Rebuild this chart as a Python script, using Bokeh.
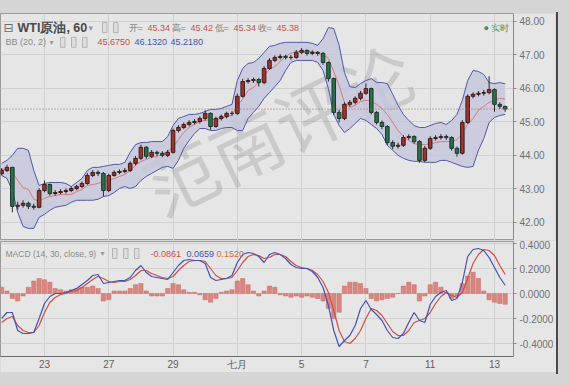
from bokeh.plotting import figure
from bokeh.models import Range1d, FixedTicker, PrintfTickFormatter, Grid, Label, Span, Div
from bokeh.layouts import column, row
from bokeh.embed import file_html
from bokeh.resources import INLINE
from bokeh.core.properties import value

# ---------------- data (4-hour bars) ----------------
day_tick_bars = [8, 20, 32, 44, 56, 68, 80, 92]
day_labels = ["23", "27", "29", "七月", "5", "7", "11", "13"]
price_ticks = [42, 43, 44, 45, 46, 47, 48]
macd_ticks = [-0.4, -0.2, 0.0, 0.2, 0.4]

opens = [43.45, 43.55, 43.64, 42.48, 42.51, 42.57, 42.48, 42.45, 42.95, 43.13,
         42.86, 42.89, 42.92, 42.95, 43.01, 43.07, 43.16, 43.40, 43.49, 43.46,
         42.95, 43.40, 43.49, 43.52, 43.55, 43.76, 43.91, 44.24, 43.97, 44.09,
         44.06, 44.00, 44.09, 44.74, 44.83, 44.92, 44.98, 45.01, 45.10, 45.25,
         44.86, 45.10, 45.16, 45.25, 45.25, 45.76, 46.20, 46.23, 46.26, 46.17,
         46.59, 46.83, 46.92, 46.95, 46.92, 46.92, 47.07, 47.13, 47.04, 47.07,
         47.04, 46.77, 46.29, 45.28, 45.10, 45.52, 45.58, 45.70, 45.85, 45.99,
         45.28, 44.98, 44.86, 44.38, 44.27, 44.30, 44.53, 44.56, 44.41, 43.85,
         44.21, 44.50, 44.53, 44.56, 44.53, 44.21, 44.06, 44.98, 45.76, 45.82,
         45.85, 45.87, 45.96, 45.52, 45.46]
closes = [43.55, 43.64, 42.48, 42.51, 42.57, 42.48, 42.45, 42.95, 43.13, 42.86,
          42.89, 42.92, 42.95, 43.01, 43.07, 43.16, 43.40, 43.49, 43.46, 42.95,
          43.40, 43.49, 43.52, 43.55, 43.76, 43.91, 44.24, 43.97, 44.09, 44.06,
          44.00, 44.09, 44.74, 44.83, 44.92, 44.98, 45.01, 45.10, 45.25, 44.86,
          45.10, 45.16, 45.25, 45.25, 45.76, 46.20, 46.23, 46.26, 46.17, 46.59,
          46.83, 46.92, 46.95, 46.92, 46.92, 47.07, 47.13, 47.04, 47.07, 47.04,
          46.77, 46.29, 45.28, 45.10, 45.52, 45.58, 45.70, 45.85, 45.99, 45.28,
          44.98, 44.86, 44.38, 44.27, 44.30, 44.53, 44.56, 44.41, 43.85, 44.21,
          44.50, 44.53, 44.56, 44.53, 44.21, 44.06, 44.98, 45.76, 45.82, 45.85,
          45.87, 45.96, 45.52, 45.46, 45.38]
highs = [43.62, 43.72, 43.66, 42.62, 42.66, 42.62, 42.56, 43.02, 43.25, 43.16,
         42.96, 42.99, 43.01, 43.07, 43.12, 43.22, 43.47, 43.56, 43.55, 43.50,
         43.45, 43.55, 43.58, 43.62, 43.82, 43.98, 44.32, 44.28, 44.16, 44.14,
         44.12, 44.16, 44.80, 44.90, 44.98, 45.05, 45.08, 45.16, 45.34, 45.28,
         45.15, 45.22, 45.30, 45.32, 45.84, 46.28, 46.30, 46.32, 46.30, 46.66,
         46.90, 46.98, 47.02, 47.00, 46.99, 47.14, 47.20, 47.16, 47.13, 47.11,
         47.08, 46.80, 46.32, 45.36, 45.58, 45.65, 45.76, 45.92, 46.14, 46.02,
         45.32, 45.04, 44.90, 44.45, 44.38, 44.60, 44.63, 44.60, 44.45, 44.28,
         44.57, 44.60, 44.63, 44.62, 44.57, 44.26, 45.05, 45.82, 45.88, 45.92,
         45.95, 46.36, 46.00, 45.58, 45.48]
lows = [43.40, 43.50, 42.30, 42.38, 42.44, 42.40, 42.38, 42.42, 42.90, 42.80,
        42.80, 42.84, 42.86, 42.90, 42.96, 43.02, 43.12, 43.35, 43.38, 42.78,
        42.90, 43.36, 43.44, 43.46, 43.50, 43.70, 43.86, 43.90, 43.92, 43.98,
        43.94, 43.95, 44.05, 44.68, 44.78, 44.86, 44.92, 44.95, 45.04, 44.76,
        44.82, 45.04, 45.10, 45.18, 45.20, 45.72, 46.14, 46.16, 46.05, 46.12,
        46.55, 46.78, 46.86, 46.86, 46.85, 46.88, 47.02, 46.98, 46.99, 46.97,
        46.70, 46.20, 45.20, 44.98, 45.05, 45.45, 45.52, 45.64, 45.80, 45.22,
        44.92, 44.78, 44.30, 44.18, 44.20, 44.25, 44.46, 44.35, 43.78, 43.80,
        44.16, 44.44, 44.47, 44.46, 44.14, 43.96, 44.02, 44.94, 45.70, 45.76,
        45.78, 45.82, 45.30, 45.38, 45.30]

bb_upper = [43.76, 43.85, 44.00, 44.21, 44.21, 44.15, 43.55, 43.10, 43.16, 43.19,
            43.19, 43.19, 43.16, 43.07, 43.19, 43.31, 43.55, 43.64, 43.64, 43.67,
            43.70, 43.73, 43.73, 43.79, 44.09, 44.32, 44.38, 44.38, 44.41, 44.41,
            44.41, 44.56, 44.89, 45.10, 45.16, 45.22, 45.22, 45.25, 45.31, 45.37,
            45.37, 45.40, 45.46, 45.52, 46.23, 46.59, 46.74, 46.77, 46.89, 47.07,
            47.25, 47.28, 47.34, 47.37, 47.37, 47.37, 47.37, 47.37, 47.34, 47.28,
            47.48, 47.81, 47.78, 47.28, 46.47, 46.05, 46.02, 46.14, 46.23, 46.29,
            46.17, 46.17, 46.14, 45.82, 45.49, 45.22, 45.04, 44.89, 44.83, 44.83,
            44.89, 44.95, 44.98, 44.92, 45.04, 45.22, 45.64, 46.23, 46.53, 46.50,
            46.41, 46.17, 46.14, 46.17, 46.132]
bb_lower = [43.40, 43.31, 42.95, 42.30, 41.88, 41.82, 41.82, 42.15, 42.24, 42.36,
            42.45, 42.48, 42.51, 42.60, 42.66, 42.66, 42.66, 42.66, 42.69, 42.77,
            42.80, 42.89, 43.01, 43.07, 43.01, 43.07, 43.25, 43.37, 43.46, 43.55,
            43.64, 43.67, 43.61, 43.85, 44.21, 44.44, 44.65, 44.80, 44.80, 44.74,
            44.74, 44.80, 44.83, 44.83, 44.74, 44.74, 45.10, 45.28, 45.46, 45.70,
            45.87, 46.05, 46.23, 46.53, 46.77, 46.83, 46.83, 46.83, 46.83, 46.77,
            46.53, 45.99, 45.22, 44.89, 44.68, 44.80, 44.95, 45.10, 45.04, 44.92,
            44.80, 44.62, 44.30, 44.15, 44.00, 43.91, 43.85, 43.82, 43.82, 43.79,
            43.79, 43.79, 43.85, 43.85, 43.79, 43.73, 43.67, 43.64, 43.67, 44.15,
            44.50, 44.98, 45.13, 45.19, 45.218]
bb_mid = [43.58, 43.58, 43.49, 43.25, 43.04, 42.98, 42.69, 42.63, 42.72, 42.77,
          42.80, 42.83, 42.83, 42.83, 42.92, 42.98, 43.10, 43.13, 43.16, 43.22,
          43.25, 43.31, 43.37, 43.43, 43.55, 43.70, 43.82, 43.88, 43.94, 43.97,
          44.03, 44.12, 44.24, 44.47, 44.68, 44.83, 44.92, 45.01, 45.04, 45.07,
          45.07, 45.10, 45.16, 45.19, 45.49, 45.67, 45.93, 46.02, 46.17, 46.38,
          46.56, 46.65, 46.80, 46.95, 47.04, 47.10, 47.10, 47.10, 47.10, 47.04,
          47.01, 46.89, 46.50, 46.08, 45.58, 45.43, 45.49, 45.61, 45.64, 45.61,
          45.52, 45.40, 45.22, 44.98, 44.74, 44.56, 44.44, 44.35, 44.32, 44.32,
          44.35, 44.38, 44.41, 44.41, 44.41, 44.47, 44.65, 44.92, 45.10, 45.34,
          45.46, 45.58, 45.64, 45.70, 45.675]

macd_line = [-0.200, -0.152, -0.152, -0.296, -0.320, -0.320, -0.312, -0.200, -0.080, -0.024,
             0.000, 0.000, 0.008, 0.024, 0.040, 0.072, 0.104, 0.144, 0.152, 0.080,
             0.088, 0.096, 0.104, 0.104, 0.128, 0.184, 0.224, 0.168, 0.136, 0.128,
             0.120, 0.112, 0.168, 0.224, 0.264, 0.272, 0.264, 0.264, 0.240, 0.128,
             0.104, 0.112, 0.120, 0.144, 0.248, 0.312, 0.328, 0.320, 0.296, 0.248,
             0.312, 0.328, 0.312, 0.280, 0.232, 0.208, 0.200, 0.200, 0.176, 0.128,
             0.048, -0.096, -0.296, -0.424, -0.376, -0.336, -0.256, -0.120, -0.056, -0.128,
             -0.168, -0.216, -0.296, -0.352, -0.360, -0.320, -0.232, -0.152, -0.216, -0.232,
             -0.088, -0.024, 0.008, 0.024, -0.056, -0.040, 0.088, 0.296, 0.352, 0.360,
             0.344, 0.288, 0.208, 0.128, 0.0659]
macd_signal = [-0.232, -0.200, -0.184, -0.256, -0.296, -0.312, -0.312, -0.256, -0.152, -0.072,
               -0.032, -0.008, 0.000, 0.016, 0.024, 0.048, 0.080, 0.112, 0.136, 0.120,
               0.096, 0.088, 0.096, 0.096, 0.112, 0.144, 0.184, 0.184, 0.160, 0.144,
               0.128, 0.120, 0.136, 0.184, 0.224, 0.256, 0.264, 0.264, 0.256, 0.200,
               0.144, 0.120, 0.120, 0.128, 0.184, 0.248, 0.296, 0.312, 0.304, 0.280,
               0.288, 0.312, 0.312, 0.296, 0.256, 0.224, 0.208, 0.200, 0.184, 0.152,
               0.096, 0.008, -0.136, -0.296, -0.384, -0.400, -0.360, -0.296, -0.200, -0.120,
               -0.136, -0.176, -0.240, -0.304, -0.336, -0.336, -0.296, -0.232, -0.216, -0.200,
               -0.152, -0.080, -0.024, 0.008, -0.016, -0.032, 0.008, 0.120, 0.240, 0.312,
               0.352, 0.344, 0.304, 0.224, 0.152]
macd_hist = [0.05, 0.02, -0.04, -0.06, -0.02, 0.05, 0.10, 0.12, 0.11, 0.09,
             0.04, 0.03, 0.02, 0.03, 0.04, 0.05, 0.05, 0.06, 0.04, -0.06,
             -0.05, 0.02, 0.02, 0.02, 0.04, 0.07, 0.08, 0.02, -0.02, -0.02,
             -0.02, 0.04, 0.08, 0.07, 0.03, 0.01, 0.01, -0.01, -0.05, -0.07,
             -0.04, 0.01, 0.02, 0.03, 0.10, 0.12, 0.07, 0.02, -0.02, 0.02,
             0.06, 0.05, -0.01, -0.02, -0.03, -0.02, -0.03, -0.02, -0.03, -0.04,
             -0.06, -0.12, -0.20, -0.15, 0.06, 0.09, 0.09, 0.08, 0.04, -0.04,
             -0.06, -0.05, -0.04, -0.03, 0.00, 0.06, 0.09, 0.07, -0.06, -0.02,
             0.07, 0.09, 0.05, 0.01, -0.04, -0.02, 0.08, 0.14, 0.17, 0.12,
             0.02, -0.05, -0.07, -0.08, -0.0861]

last_price = 45.38
title_text = "WTI原油, 60"
ohlc_names = ["开=", "高=", "低=", "收="]
ohlc_values = ["45.34", "45.42", "45.34", "45.38"]
bb_title = "BB (20, 2)"
bb_values = ["45.6750", "46.1320", "45.2180"]
macd_title = "MACD (14, 30, close, 9)"
macd_values = ["-0.0861", "0.0659", "0.1520"]
watermark = "范南评论"

# ---------------- style ----------------
OUTER = "#d6d6d6"
PANEL = "#e6e6e6"
GRID = "#d0d0d0"
UP = "#9e332c"
DOWN = "#2c7049"
BAND_FILL = "#c6c7dc"
BAND_LINE = "#4f58a8"
MID_LINE = "#d97a74"
BLUE = "#4452b0"
RED = "#c9504a"
TXT = "#707070"
LATIN = "Liberation Sans"
CJK = "Noto Sans CJK SC"

x = list(range(len(closes)))
xr = Range1d(-0.21, 95.55)


def base_fig(y_range, frame_h, top, bottom, show_x):
    p = figure(frame_width=513, frame_height=frame_h, x_range=xr, y_range=y_range,
               output_backend="svg", toolbar_location=None,
               x_axis_location="below" if show_x else None, y_axis_location="right",
               min_border_left=0, min_border_right=42, min_border_top=top,
               min_border_bottom=bottom, background_fill_color=PANEL,
               border_fill_color=PANEL, outline_line_color="#9a9a9a")
    p.xgrid.visible = False
    p.add_layout(Grid(dimension=0, ticker=FixedTicker(ticks=day_tick_bars),
                      grid_line_color=GRID))
    p.ygrid.grid_line_color = GRID
    ax = p.yaxis[0]
    ax.axis_line_color = "#8a8a8a"
    ax.major_tick_line_color = "#8a8a8a"
    ax.major_tick_out = 3
    ax.major_tick_in = 0
    ax.minor_tick_line_color = None
    ax.major_label_standoff = 3
    ax.major_label_text_font = LATIN
    ax.major_label_text_font_size = "10px"
    ax.major_label_text_color = TXT
    return p


# ---------------- price panel ----------------
p1 = base_fig(Range1d(41.46, 48.23), 227, 0, 0, False)
p1.yaxis.ticker = FixedTicker(ticks=price_ticks)
p1.yaxis.formatter = PrintfTickFormatter(format="%.2f")

p1.text(x=[51.5], y=[44.845], text=[watermark], angle=0.45, text_align="center",
        text_baseline="middle", text_font=value(CJK), text_font_size="72px",
        text_color="#7a7a7a", text_alpha=0.26)

p1.varea(x=x, y1=bb_lower, y2=bb_upper, fill_color=BAND_FILL, fill_alpha=0.85)
p1.line(x, bb_upper, line_color=BAND_LINE, line_width=1)
p1.line(x, bb_lower, line_color=BAND_LINE, line_width=1)
p1.line(x, bb_mid, line_color=MID_LINE, line_width=1)

p1.add_layout(Span(location=last_price, dimension="width", line_color="#b8605a",
                   line_dash="1 2", line_width=1))

up_i = [i for i in x if closes[i] >= opens[i]]
dn_i = [i for i in x if closes[i] < opens[i]]
p1.segment(x0=x, y0=lows, x1=x, y1=highs, line_color="#2e2626", line_width=1)
p1.vbar(x=[x[i] for i in up_i], bottom=[opens[i] for i in up_i], top=[closes[i] for i in up_i],
        width=0.66, fill_color=UP, line_color="#3e1c1c")
p1.vbar(x=[x[i] for i in dn_i], bottom=[closes[i] for i in dn_i], top=[opens[i] for i in dn_i],
        width=0.66, fill_color=DOWN, line_color="#1c3528")


def lab(p, xs, y, text, color=TXT, size="9px", font=LATIN, style="normal", **kw):
    p.add_layout(Label(x=xs, y=y, x_units="screen", text=text, text_color=color,
                       text_font_size=size, text_font=font, text_font_style=style,
                       text_baseline="middle", **kw))


def boxes(p, xs, y, n):
    for k in range(n):
        p.add_layout(Label(x=xs + 11 * k, y=y, x_units="screen", text="\u2002",
                           text_font_size="9px", text_baseline="middle",
                           border_line_color="#b4b4b4", background_fill_color="#dedede"))


y_l1 = 47.81
y_l2 = 47.37
lab(p1, 3, y_l1, "⊟", "#6a6a6a", "12px", "DejaVu Sans")
lab(p1, 17, y_l1, title_text, "#4a4a4a", "12.5px", LATIN, "bold")
lab(p1, 88, y_l1, "▾", "#9a9a9a", "9px", "DejaVu Sans")
boxes(p1, 102, y_l1, 2)
for xs, nm, vv in zip([128, 171, 214, 257], ohlc_names, ohlc_values):
    lab(p1, xs, y_l1, nm, "#7a7a7a", "9px", LATIN)
    lab(p1, xs + 19, y_l1, vv, RED, "9px")
lab(p1, 5, y_l2, bb_title, "#8a8a8a", "9px")
lab(p1, 49, y_l2, "▾", "#9a9a9a", "8px", "DejaVu Sans")
boxes(p1, 60, y_l2, 3)
lab(p1, 97, y_l2, bb_values[0], RED)
lab(p1, 134, y_l2, bb_values[1], BLUE)
lab(p1, 170, y_l2, bb_values[2], BLUE)
lab(p1, 483, y_l1, "● 实时", "#3f8a5c", "9px", LATIN)

p1.add_layout(Label(x=515, y=last_price, x_units="screen", text=f"{last_price:.2f}",
                    text_color="white", text_font_size="10px", text_font=LATIN,
                    text_baseline="middle", background_fill_color="#c0392b",
                    border_line_color="#9a2a20"))

# ---------------- MACD panel ----------------
p2 = base_fig(Range1d(-0.504, 0.416), 115, 1, 16, True)
p2.yaxis.ticker = FixedTicker(ticks=macd_ticks)
p2.yaxis.formatter = PrintfTickFormatter(format="%.4f")
xa = p2.xaxis[0]
xa.ticker = FixedTicker(ticks=day_tick_bars)
xa.major_label_overrides = {b: t for b, t in zip(day_tick_bars, day_labels)}
xa.axis_line_color = "#6a6a6a"
xa.major_tick_line_color = None
xa.major_tick_out = 0
xa.major_tick_in = 0
xa.minor_tick_line_color = None
xa.minor_tick_out = 0
xa.major_label_standoff = 2
xa.major_label_text_font = LATIN
xa.major_label_text_font_size = "10px"
xa.major_label_text_color = "#606060"

p2.vbar(x=x, top=macd_hist, bottom=0, width=0.8, fill_color="#d98580",
        line_color="#c96a64", line_width=0.5)
p2.line(x, macd_signal, line_color=RED, line_width=1.2)
p2.line(x, macd_line, line_color=BLUE, line_width=1.2)

y_m = 0.32
lab(p2, 5, y_m, macd_title, "#8a8a8a", "8.5px")
lab(p2, 100, y_m, "▾", "#9a9a9a", "8px", "DejaVu Sans")
boxes(p2, 112, y_m, 3)
lab(p2, 150, y_m, macd_values[0], RED)
lab(p2, 186, y_m, macd_values[1], BLUE)
lab(p2, 216, y_m, macd_values[2], "#d0704a")

top_strip = Div(width=555, height=13, margin=0, styles={"background-color": OUTER})
bottom_strip = Div(width=555, height=13, margin=0, styles={"background-color": OUTER})
right_strip = Div(width=14, height=385, margin=0, styles={"background-color": OUTER},
                  text='<div style="position:absolute;left:0px;top:12px;width:2px;'
                       'height:362px;background:#4a4a4a"></div>')

layout = row(column(top_strip, p1, p2, bottom_strip, spacing=0), right_strip, spacing=0,
             styles={"background-color": OUTER})

open("out.html", "w").write(file_html(layout, INLINE))
